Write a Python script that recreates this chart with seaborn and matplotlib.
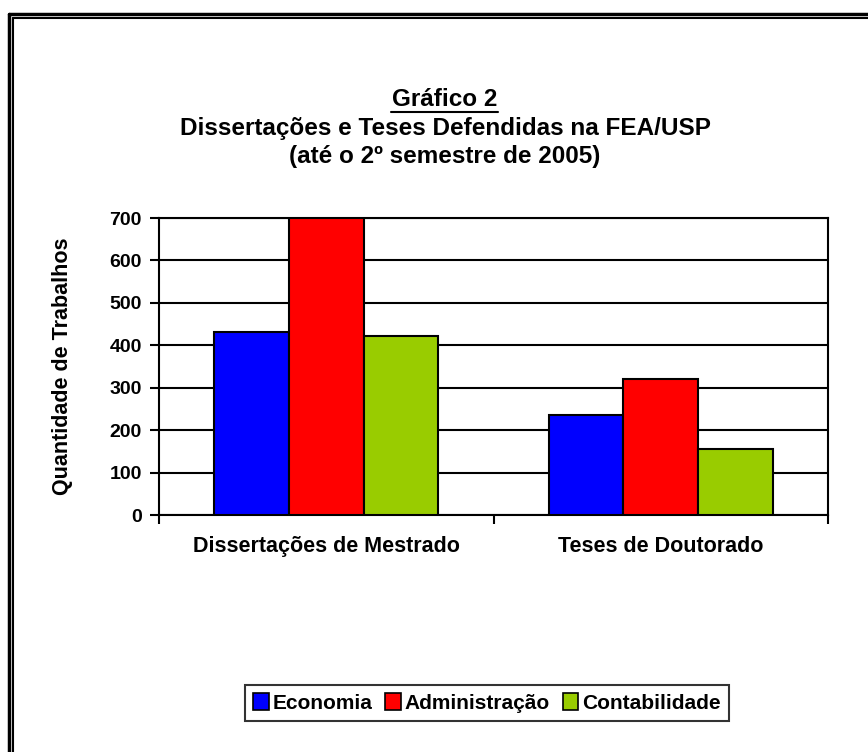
import matplotlib.pyplot as plt
import matplotlib.lines as mlines
import matplotlib.patches as mpatches
import seaborn as sns
import pandas as pd

sns.set_style("white")
plt.rcParams["font.family"] = ["Liberation Sans", "DejaVu Sans"]
plt.rcParams["font.weight"] = "bold"
plt.rcParams["text.color"] = "black"
plt.rcParams["axes.labelcolor"] = "black"
plt.rcParams["xtick.color"] = "black"
plt.rcParams["ytick.color"] = "black"

categories = ["Dissertações de Mestrado", "Teses de Doutorado"]
series = ["Economia", "Administração", "Contabilidade"]
economia = [432, 236]
administracao = [700, 320]
contabilidade = [423, 156]
colors = ["#0000FF", "#FF0000", "#99CC00"]

df = pd.DataFrame({
    "categoria": categories * 3,
    "area": [s for s in series for _ in categories],
    "valor": economia + administracao + contabilidade,
})

W, H = 868, 752
fig = plt.figure(figsize=(W / 100, H / 100), dpi=100)
ax = fig.add_axes([159 / W, 1 - 515 / H, (828 - 159) / W, (515 - 218) / H])

sns.barplot(data=df, x="categoria", y="valor", hue="area", palette=colors,
            saturation=1, width=0.67, edgecolor="black", linewidth=1.5,
            ax=ax, legend=False, zorder=3)

ax.set_ylim(0, 700)
ax.set_yticks(range(0, 701, 100))
ax.set_xlim(-0.5, 1.5)
ax.yaxis.grid(True, color="black", linewidth=1.5, zorder=0)
ax.set_axisbelow(True)
for s in ax.spines.values():
    s.set_color("black")
    s.set_linewidth(1.5)

ax.set_xticks([0, 1])
ax.set_xticklabels(categories, fontsize=15.5, fontweight="bold")
ax.set_xticks([-0.5, 0.5, 1.5], minor=True)
ax.tick_params(axis="x", which="major", length=0, pad=15)
ax.tick_params(axis="x", which="minor", length=6.5, width=1.5, color="black", direction="out")
ax.tick_params(axis="y", length=6.5, width=1.5, color="black", direction="out",
               labelsize=14, pad=6)
ax.yaxis.set_ticks_position("left")
ax.xaxis.set_ticks_position("bottom")
for lab in ax.get_yticklabels():
    lab.set_fontweight("bold")
ax.set_xlabel("")
ax.set_ylabel("Quantidade de Trabalhos", fontsize=15.5, fontweight="bold", labelpad=26)

# title
fig.text(445 / W, 1 - 100 / H, "Gráfico 2", ha="center", va="center",
         fontsize=17.5, fontweight="bold")
fig.add_artist(mlines.Line2D([391 / W, 498 / W], [1 - 112 / H, 1 - 112 / H],
                             color="black", linewidth=1.5))
fig.text(445 / W, 1 - 128 / H, "Dissertações e Teses Defendidas na FEA/USP",
         ha="center", va="center", fontsize=17.5, fontweight="bold")
fig.text(445 / W, 1 - 157 / H, "(até o 2º semestre de 2005)",
         ha="center", va="center", fontsize=17.5, fontweight="bold")

# legend
handles = [mpatches.Patch(facecolor=c, edgecolor="black", linewidth=1.2, label=s)
           for c, s in zip(colors, series)]
leg = fig.legend(handles=handles, loc="center", bbox_to_anchor=(487 / W, 1 - 703 / H),
                 ncol=3, frameon=True, fancybox=False, shadow=False,
                 handlelength=0.75, handleheight=0.9, handletextpad=0.2,
                 columnspacing=0.6, borderpad=0.4,
                 prop={"size": 15, "weight": "bold"})
leg.get_frame().set_edgecolor("black")
leg.get_frame().set_linewidth(1.5)

# double page border (open on right and bottom)
for x, y, lw in [(9, 14, 2.5), (13, 18, 1.5)]:
    fig.add_artist(mlines.Line2D([x / W, x / W], [0, 1 - y / H], color="black", linewidth=lw))
    fig.add_artist(mlines.Line2D([x / W, 1], [1 - y / H, 1 - y / H], color="black", linewidth=lw))

fig.savefig("out.png", dpi=100)
